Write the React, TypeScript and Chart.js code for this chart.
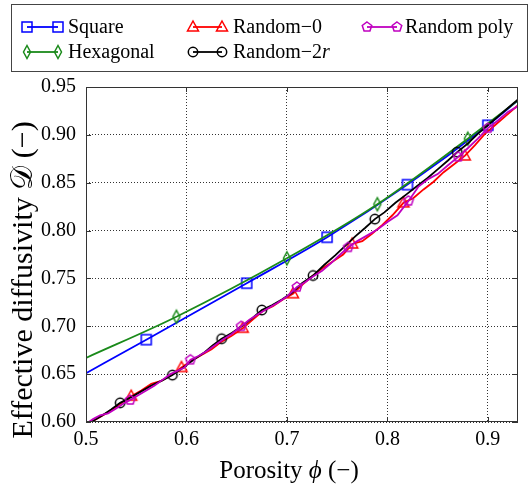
import React, { useEffect, useRef } from 'react';
import { Chart, registerables } from 'chart.js';

Chart.register(...registerables);

const xTicks = [0.5, 0.6, 0.7, 0.8, 0.9];
const yTicks = [0.6, 0.65, 0.7, 0.75, 0.8, 0.85, 0.9, 0.95];

const squareX = [0.5, 0.56, 0.66, 0.74, 0.82, 0.9, 0.93];
const squareY = [0.651, 0.686, 0.745, 0.793, 0.848, 0.91, 0.936];
const squareMarks = [1, 2, 3, 4, 5];

const hexX = [0.5, 0.59, 0.7, 0.79, 0.88, 0.93];
const hexY = [0.667, 0.71, 0.771, 0.8275, 0.896, 0.936];
const hexMarks = [1, 2, 3, 4];

const rand0X = [0.5, 0.51, 0.52, 0.53, 0.545, 0.555, 0.565, 0.575, 0.585, 0.595, 0.605, 0.615, 0.625, 0.635, 0.645, 0.656, 0.666, 0.676, 0.686, 0.696, 0.706, 0.716, 0.726, 0.736, 0.746, 0.756, 0.765, 0.775, 0.785, 0.795, 0.805, 0.816, 0.826, 0.836, 0.846, 0.856, 0.866, 0.877, 0.887, 0.897, 0.907, 0.917, 0.93];
const rand0Y = [0.597, 0.603, 0.609, 0.616, 0.627, 0.633, 0.64, 0.643, 0.649, 0.657, 0.664, 0.67, 0.676, 0.684, 0.69, 0.698, 0.707, 0.716, 0.721, 0.728, 0.734, 0.744, 0.753, 0.761, 0.768, 0.775, 0.786, 0.789, 0.797, 0.806, 0.816, 0.829, 0.834, 0.843, 0.851, 0.861, 0.869, 0.878, 0.889, 0.901, 0.91, 0.919, 0.931];
const rand0Marks = [4, 9, 15, 20, 26, 31, 37];

const rand2rX = [0.5, 0.515, 0.525, 0.534, 0.545, 0.555, 0.565, 0.575, 0.586, 0.597, 0.607, 0.617, 0.626, 0.635, 0.645, 0.655, 0.665, 0.675, 0.685, 0.695, 0.705, 0.715, 0.726, 0.737, 0.748, 0.758, 0.768, 0.778, 0.7875, 0.797, 0.808, 0.818, 0.829, 0.84, 0.85, 0.86, 0.8695, 0.88, 0.89, 0.9, 0.91, 0.92, 0.93];
const rand2rY = [0.597, 0.606, 0.613, 0.62, 0.626, 0.632, 0.638, 0.643, 0.649, 0.657, 0.665, 0.672, 0.68, 0.687, 0.693, 0.7, 0.708, 0.717, 0.722, 0.728, 0.735, 0.745, 0.753, 0.764, 0.774, 0.784, 0.794, 0.803, 0.812, 0.819, 0.829, 0.837, 0.846, 0.855, 0.864, 0.873, 0.882, 0.891, 0.901, 0.91, 0.919, 0.928, 0.937];
const rand2rMarks = [3, 8, 13, 17, 22, 28, 36];

const polyX = [0.5, 0.507, 0.514, 0.522, 0.53, 0.537, 0.544, 0.552, 0.56, 0.568, 0.576, 0.584, 0.592, 0.598, 0.604, 0.612, 0.62, 0.628, 0.636, 0.645, 0.6545, 0.663, 0.672, 0.68, 0.69, 0.7, 0.71, 0.718, 0.726, 0.735, 0.744, 0.752, 0.761, 0.77, 0.78, 0.79, 0.8, 0.81, 0.821, 0.831, 0.841, 0.85, 0.86, 0.8705, 0.88, 0.89, 0.9, 0.91, 0.92, 0.93];
const polyY = [0.598, 0.603, 0.607, 0.609, 0.614, 0.619, 0.623, 0.628, 0.633, 0.638, 0.644, 0.65, 0.654, 0.657, 0.665, 0.669, 0.674, 0.68, 0.686, 0.692, 0.7, 0.707, 0.713, 0.718, 0.724, 0.731, 0.741, 0.746, 0.752, 0.758, 0.766, 0.774, 0.7825, 0.789, 0.795, 0.801, 0.809, 0.816, 0.831, 0.846, 0.854, 0.859, 0.868, 0.877, 0.886, 0.896, 0.907, 0.915, 0.924, 0.93];
const polyMarks = [6, 14, 20, 26, 32, 38, 43, 46];

const FONT = '"Liberation Serif", "DejaVu Serif", serif';

type Kind = 'square' | 'diamond' | 'triangle' | 'circle' | 'pentagon';

function makeMarker(kind: Kind, color: string): HTMLCanvasElement {
  const s = 18;
  const c = document.createElement('canvas');
  c.width = s;
  c.height = s;
  const g = c.getContext('2d')!;
  g.strokeStyle = color;
  g.lineWidth = 1.5;
  const m = s / 2;
  g.beginPath();
  if (kind === 'square') {
    g.rect(m - 5, m - 5, 10, 10);
  } else if (kind === 'diamond') {
    g.moveTo(m, m - 6.5);
    g.lineTo(m + 3.5, m);
    g.lineTo(m, m + 6.5);
    g.lineTo(m - 3.5, m);
    g.closePath();
  } else if (kind === 'triangle') {
    g.moveTo(m, m - 6);
    g.lineTo(m + 5.5, m + 4);
    g.lineTo(m - 5.5, m + 4);
    g.closePath();
  } else if (kind === 'circle') {
    g.arc(m, m, 4.7, 0, Math.PI * 2);
  } else {
    for (let i = 0; i < 5; i++) {
      const a = -Math.PI / 2 + (i * 2 * Math.PI) / 5;
      const px = m + 5 * Math.cos(a);
      const py = m + 5 * Math.sin(a);
      if (i === 0) g.moveTo(px, py);
      else g.lineTo(px, py);
    }
    g.closePath();
  }
  g.stroke();
  return c;
}

type Seg = [string, boolean];

function drawSegs(ctx: CanvasRenderingContext2D, segs: Seg[], size: number, x: number, y: number, center: boolean) {
  let total = 0;
  const widths = segs.map(([t, it]) => {
    ctx.font = `${it ? 'italic ' : ''}${size}px ${FONT}`;
    const w = ctx.measureText(t).width;
    total += w;
    return w;
  });
  let cx = center ? x - total / 2 : x;
  segs.forEach(([t, it], i) => {
    ctx.font = `${it ? 'italic ' : ''}${size}px ${FONT}`;
    ctx.fillText(t, cx, y);
    cx += widths[i];
  });
}

export default function App() {
  const ref = useRef<HTMLCanvasElement>(null);

  useEffect(() => {
    if (!ref.current) return;
    const colors = { blue: '#0000ff', green: '#1a8a1a', red: '#ff0000', black: '#000000', magenta: '#c000c0' };
    const mk = {
      square: makeMarker('square', colors.blue),
      diamond: makeMarker('diamond', colors.green),
      triangle: makeMarker('triangle', colors.red),
      circle: makeMarker('circle', colors.black),
      pentagon: makeMarker('pentagon', colors.magenta),
    };
    const pts = (xs: number[], ys: number[]) => xs.map((x, i) => ({ x, y: ys[i] }));
    const radius = (marks: number[]) => (c: any) => (marks.includes(c.dataIndex) ? 5 : 0);
    const base = { borderWidth: 1.8, clip: 0, pointHoverRadius: 0, fill: false };

    const datasets: any[] = [
      { ...base, label: 'Square', data: pts(squareX, squareY), borderColor: colors.blue, pointStyle: mk.square, pointRadius: radius(squareMarks), order: 4, cubicInterpolationMode: 'monotone' },
      { ...base, label: 'Hexagonal', data: pts(hexX, hexY), borderColor: colors.green, pointStyle: mk.diamond, pointRadius: radius(hexMarks), order: 3, cubicInterpolationMode: 'monotone' },
      { ...base, label: 'Random−0', data: pts(rand0X, rand0Y), borderColor: colors.red, pointStyle: mk.triangle, pointRadius: radius(rand0Marks), order: 2 },
      { ...base, label: 'Random−2r', data: pts(rand2rX, rand2rY), borderColor: colors.black, pointStyle: mk.circle, pointRadius: radius(rand2rMarks), order: 1 },
      { ...base, label: 'Random poly', data: pts(polyX, polyY), borderColor: colors.magenta, pointStyle: mk.pentagon, pointRadius: radius(polyMarks), order: 0 },
    ];

    const legendItems = [
      { segs: [['Square', false]] as Seg[], color: colors.blue, m: mk.square, x1: 27, x2: 58, tx: 68, y: 27 },
      { segs: [['Hexagonal', false]] as Seg[], color: colors.green, m: mk.diamond, x1: 27, x2: 58, tx: 68, y: 52 },
      { segs: [['Random−0', false]] as Seg[], color: colors.red, m: mk.triangle, x1: 193, x2: 222, tx: 233, y: 27 },
      { segs: [['Random−2', false], ['r', true]] as Seg[], color: colors.black, m: mk.circle, x1: 193, x2: 222, tx: 233, y: 52 },
      { segs: [['Random poly', false]] as Seg[], color: colors.magenta, m: mk.pentagon, x1: 367, x2: 397, tx: 405, y: 27 },
    ];

    const decor = {
      id: 'decor',
      afterDraw(chart: any) {
        const ctx: CanvasRenderingContext2D = chart.ctx;
        const { left, right, top, bottom } = chart.chartArea;
        const xs = chart.scales.x;
        const ys = chart.scales.y;
        ctx.save();
        // frame
        ctx.strokeStyle = '#333';
        ctx.lineWidth = 1;
        ctx.strokeRect(left + 0.5, top + 0.5, right - left - 1, bottom - top - 1);
        // inward ticks
        ctx.beginPath();
        xTicks.forEach((v) => {
          const px = Math.round(xs.getPixelForValue(v)) + 0.5;
          ctx.moveTo(px, bottom);
          ctx.lineTo(px, bottom - 5);
          ctx.moveTo(px, top);
          ctx.lineTo(px, top + 5);
        });
        yTicks.forEach((v) => {
          const py = Math.round(ys.getPixelForValue(v)) + 0.5;
          ctx.moveTo(left, py);
          ctx.lineTo(left + 5, py);
          ctx.moveTo(right, py);
          ctx.lineTo(right - 5, py);
        });
        ctx.stroke();

        // axis titles
        ctx.fillStyle = '#000';
        ctx.textBaseline = 'alphabetic';
        ctx.textAlign = 'left';
        drawSegs(ctx, [['Porosity ', false], ['ϕ', true], [' (−)', false]], 25, 289, 478, true);
        ctx.save();
        ctx.translate(32, 280);
        ctx.rotate(-Math.PI / 2);
        drawSegs(ctx, [['Effective diffusivity ', false], ['𝒟', false], [' (−)', false]], 30, 0, 0, true);
        ctx.restore();

        // legend
        ctx.strokeStyle = '#444';
        ctx.lineWidth = 1;
        ctx.fillStyle = '#fff';
        ctx.fillRect(11.5, 4.5, 516, 67);
        ctx.strokeRect(11.5, 4.5, 516, 67);
        legendItems.forEach((it) => {
          ctx.strokeStyle = it.color;
          ctx.lineWidth = 1.8;
          ctx.beginPath();
          ctx.moveTo(it.x1, it.y);
          ctx.lineTo(it.x2, it.y);
          ctx.stroke();
          ctx.drawImage(it.m, it.x1 - it.m.width / 2, it.y - it.m.height / 2);
          ctx.drawImage(it.m, it.x2 - it.m.width / 2, it.y - it.m.height / 2);
          ctx.fillStyle = '#000';
          ctx.textBaseline = 'middle';
          drawSegs(ctx, it.segs, 20, it.tx, it.y + 1, false);
        });
        ctx.restore();
      },
    };

    const tickFont = { family: FONT, size: 20 };
    const chart = new Chart(ref.current, {
      type: 'line',
      data: { datasets },
      plugins: [decor],
      options: {
        responsive: false,
        animation: false,
        events: [],
        layout: { padding: { left: 0, right: 11, top: 87, bottom: 0 } },
        plugins: { legend: { display: false }, tooltip: { enabled: false } },
        scales: {
          x: {
            type: 'linear',
            min: 0.5,
            max: 0.93,
            afterBuildTicks: (s: any) => {
              s.ticks = xTicks.map((v) => ({ value: v }));
            },
            afterFit: (s: any) => {
              s.height = 65;
            },
            ticks: { callback: (v: any) => Number(v).toFixed(1), font: tickFont, color: '#000', padding: 6, maxRotation: 0, autoSkip: false },
            grid: { color: 'rgba(0,0,0,0.8)', lineWidth: 1, drawTicks: false },
            border: { display: false, dash: [1, 2] },
          },
          y: {
            type: 'linear',
            min: 0.6,
            max: 0.95,
            afterBuildTicks: (s: any) => {
              s.ticks = yTicks.map((v) => ({ value: v }));
            },
            afterFit: (s: any) => {
              s.width = 86;
            },
            ticks: { callback: (v: any) => Number(v).toFixed(2), font: tickFont, color: '#000', padding: 10, autoSkip: false },
            grid: { color: 'rgba(0,0,0,0.8)', lineWidth: 1, drawTicks: false },
            border: { display: false, dash: [1, 2] },
          },
        },
      } as any,
    });
    return () => chart.destroy();
  }, []);

  return (
    <div style={{ position: 'absolute', left: 0, top: 0, width: 529, height: 487, background: '#fff' }}>
      <canvas ref={ref} width={529} height={487} style={{ display: 'block' }} />
    </div>
  );
}
